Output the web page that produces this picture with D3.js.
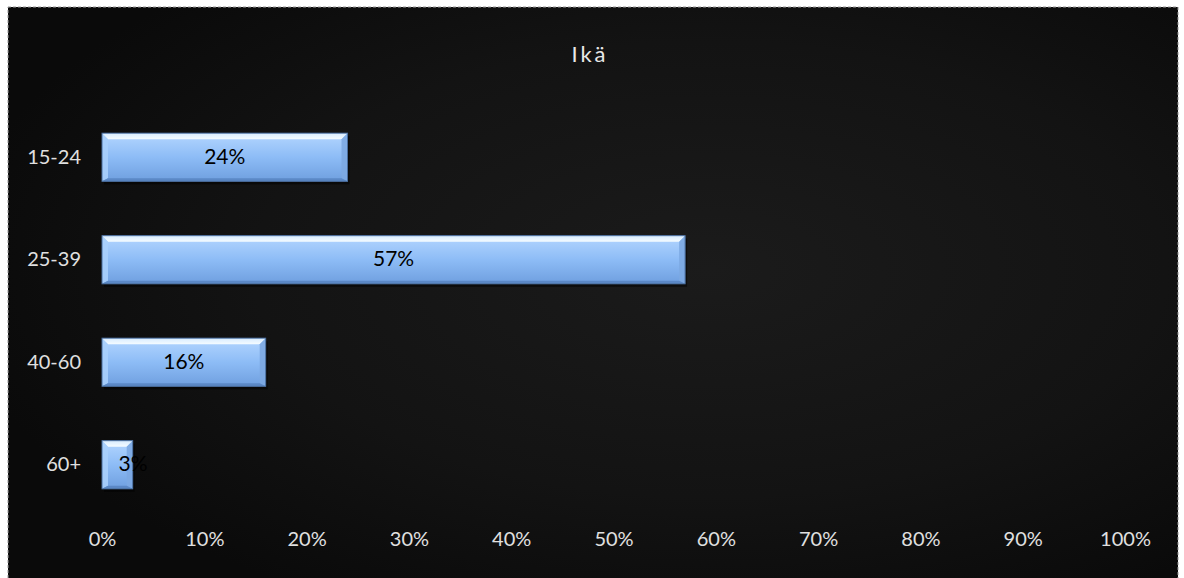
<!DOCTYPE html>
<html>
<head>
<meta charset="utf-8">
<title>Ikä</title>
<script src="https://cdn.jsdelivr.net/npm/d3@7"></script>
<style>
	body { margin: 0; background: #fff; }
	.chart text { font-family: Lato, "Open Sans", sans-serif; }
</style>
</head>
<body>
<svg width="1184" height="578" class="chart"></svg>
<script>

	// data
	categories = ['15-24', '25-39', '40-60', '60+']
	values = [0.24, 0.57, 0.16, 0.03]
	ticks = [0, 0.1, 0.2, 0.3, 0.4, 0.5, 0.6, 0.7, 0.8, 0.9, 1.0]
	title = 'Ikä'

	svg = d3.select('.chart')
	frame = {left: 8, top: 7, right: 1178, bottom: 590}

	defs = svg.append('defs')

	bg = defs.append('radialGradient').attr('id', 'bg')
		.attr('cx', '0.6').attr('cy', '0.45').attr('r', '0.65')
	bg.append('stop').attr('offset', '0%').attr('stop-color', '#1b1b1b')
	bg.append('stop').attr('offset', '60%').attr('stop-color', '#131313')
	bg.append('stop').attr('offset', '100%').attr('stop-color', '#0a0a0a')

	face = defs.append('linearGradient').attr('id', 'face')
		.attr('x1', 0).attr('y1', 0).attr('x2', 0).attr('y2', 1)
	face.append('stop').attr('offset', '0%').attr('stop-color', '#b4d6ff')
	face.append('stop').attr('offset', '50%').attr('stop-color', '#8dbcf6')
	face.append('stop').attr('offset', '100%').attr('stop-color', '#6f9fdf')

	topBevel = defs.append('linearGradient').attr('id', 'topBevel')
		.attr('x1', 0).attr('y1', 0).attr('x2', 0).attr('y2', 1)
	topBevel.append('stop').attr('offset', '0%').attr('stop-color', '#d8ecff')
	topBevel.append('stop').attr('offset', '100%').attr('stop-color', '#f4fbff')

	svg.append('rect')
		.attr('x', frame.left).attr('y', frame.top)
		.attr('width', frame.right - frame.left).attr('height', frame.bottom - frame.top)
		.attr('fill', 'url(#bg)')
		.attr('stroke', '#9a9a9a').attr('stroke-dasharray', '3,2').attr('stroke-width', 1)

	x = d3.scaleLinear().domain([0, 1]).range([102, 1125])
	y = d3.scaleBand().domain(categories).range([106, 516]).paddingInner(0.53).paddingOuter(0.265)

	// title
	svg.append('text')
		.attr('x', 590).attr('y', 62)
		.attr('text-anchor', 'middle')
		.attr('fill', '#e8e8e8')
		.attr('font-size', 22)
		.attr('letter-spacing', 3)
		.text(title)

	// x axis labels
	xAxis = d3.axisBottom(x).tickValues(ticks).tickFormat(d3.format('.0%')).tickSize(0).tickPadding(0)
	gx = svg.append('g').attr('transform', 'translate(0,532)').call(xAxis)
	gx.select('.domain').remove()
	gx.selectAll('text').attr('fill', '#e0e0e0').attr('font-size', 20)

	// y axis labels
	yAxis = d3.axisLeft(y).tickSize(0).tickPadding(21)
	gy = svg.append('g').attr('transform', 'translate(102,0)').call(yAxis)
	gy.select('.domain').remove()
	gy.selectAll('text').attr('fill', '#e0e0e0').attr('font-size', 20)

	// bars with bevel
	bars = svg.append('g').selectAll('g.bar')
		.data(values.map(function(v, i) { return {cat: categories[i], value: v} }))
		.enter().append('g').attr('class', 'bar')

	b = 6
	bars.each(function(d) {
		g = d3.select(this)
		x0 = x(0), x1 = x(d.value), y0 = y(d.cat), y1 = y0 + y.bandwidth()
		bb = Math.min(b, (x1 - x0) / 2)
		g.append('rect')
			.attr('x', x0 + 2).attr('y', y0 + 3)
			.attr('width', x1 - x0).attr('height', y1 - y0)
			.attr('fill', '#000').attr('opacity', 0.5)
		g.append('rect')
			.attr('x', x0).attr('y', y0)
			.attr('width', x1 - x0).attr('height', y1 - y0)
			.attr('fill', 'url(#face)')
		// top bevel
		g.append('polygon')
			.attr('points', [[x0, y0], [x1, y0], [x1 - bb, y0 + b], [x0 + bb, y0 + b]].join(' '))
			.attr('fill', 'url(#topBevel)')
		// left bevel
		g.append('polygon')
			.attr('points', [[x0, y0], [x0 + bb, y0 + b], [x0 + bb, y1 - 3], [x0, y1]].join(' '))
			.attr('fill', '#a9cffc').attr('opacity', 0.9)
		// right bevel
		g.append('polygon')
			.attr('points', [[x1, y0], [x1 - bb, y0 + b], [x1 - bb, y1 - 3], [x1, y1]].join(' '))
			.attr('fill', '#7ca9e2').attr('opacity', 0.9)
		// bottom bevel
		g.append('polygon')
			.attr('points', [[x0, y1], [x0 + bb, y1 - 3], [x1 - bb, y1 - 3], [x1, y1]].join(' '))
			.attr('fill', '#5b88c6')
		g.append('rect')
			.attr('x', x0).attr('y', y0)
			.attr('width', x1 - x0).attr('height', y1 - y0)
			.attr('fill', 'none').attr('stroke', '#4a6e9e').attr('stroke-width', 1)
		g.append('text')
			.attr('x', Math.max((x0 + x1) / 2, x0 + 31))
			.attr('y', (y0 + y1) / 2 + 1)
			.attr('text-anchor', 'middle')
			.attr('dominant-baseline', 'middle')
			.attr('fill', '#000')
			.attr('font-size', 21)
			.text(d3.format('.0%')(d.value))
	})

</script>
</body>
</html>
